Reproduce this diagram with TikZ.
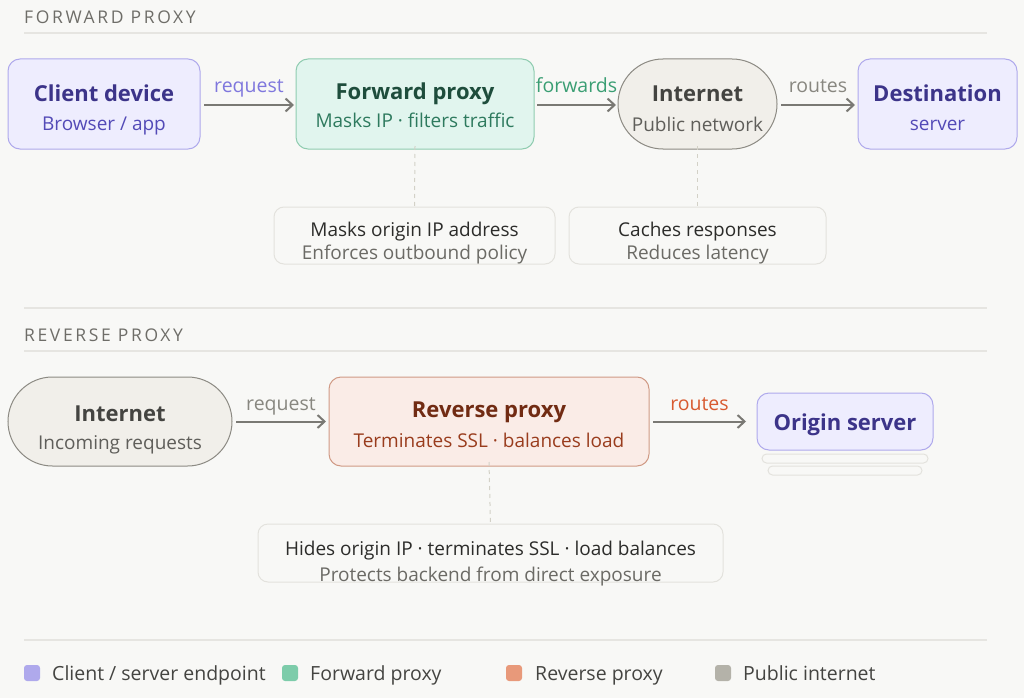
\documentclass[tikz,border=0pt]{standalone}
\usepackage{fontspec}
\setmainfont{Open Sans}
\newfontfamily\headfont[LetterSpace=15]{Open Sans}
\usetikzlibrary{arrows.meta}
\definecolor{bg}{HTML}{F8F8F6}
\definecolor{rule}{HTML}{E6E5E1}
\definecolor{headc}{HTML}{6E6D68}
\definecolor{purF}{HTML}{EEEDFE}
\definecolor{purD}{HTML}{AFA9EC}
\definecolor{purT}{HTML}{3C3489}
\definecolor{purS}{HTML}{534AB7}
\definecolor{purL}{HTML}{7F77DD}
\definecolor{grnF}{HTML}{E1F5EE}
\definecolor{grnD}{HTML}{8FCCB0}
\definecolor{grnT}{HTML}{1E4D3C}
\definecolor{grnS}{HTML}{2E7A5E}
\definecolor{grnL}{HTML}{3A9E73}
\definecolor{gryF}{HTML}{F1EFEA}
\definecolor{gryD}{HTML}{8C8A83}
\definecolor{gryT}{HTML}{444441}
\definecolor{gryS}{HTML}{5F5E5A}
\definecolor{gryL}{HTML}{888780}
\definecolor{corF}{HTML}{FAECE7}
\definecolor{corD}{HTML}{D09A85}
\definecolor{corT}{HTML}{712B13}
\definecolor{corS}{HTML}{993C1D}
\definecolor{corL}{HTML}{D85A30}
\definecolor{noteD}{HTML}{E3E2DD}
\definecolor{noteT}{HTML}{2C2C2A}
\definecolor{noteS}{HTML}{6B6A65}
\definecolor{arrc}{HTML}{7A7974}
\definecolor{dashc}{HTML}{D3D1C7}
\definecolor{legP}{HTML}{AFA9EC}
\definecolor{legG}{HTML}{7DCCAA}
\definecolor{legC}{HTML}{E8997A}
\definecolor{legY}{HTML}{B4B2A9}
\begin{document}
\begin{tikzpicture}[x=1pt,y=-1pt,
  box/.style={draw, line width=1pt, rounded corners=12pt, inner sep=0pt, outer sep=0pt},
  notebox/.style={draw=noteD, fill=bg, line width=1pt, rounded corners=10pt, inner sep=0pt},
  ttl/.style={font=\bfseries\fontsize{22}{26}\selectfont, anchor=base, inner sep=0pt},
  sub/.style={font=\fontsize{19}{23}\selectfont, anchor=base, inner sep=0pt},
  lbl/.style={font=\fontsize{19.5}{23}\selectfont, anchor=base, inner sep=0pt},
  ntt/.style={font=\fontsize{19}{23}\selectfont, anchor=base, inner sep=0pt, text=noteT},
  nts/.style={font=\fontsize{19}{23}\selectfont, anchor=base, inner sep=0pt, text=noteS},
  head/.style={font=\headfont\fontsize{17.5}{20}\selectfont, anchor=base west, inner sep=0pt, text=headc},
  arr/.style={draw=arrc, line width=2pt, -{Straight Barb[length=7pt,width=13pt]}},
  dsh/.style={draw=dashc, line width=1pt, dash pattern=on 4pt off 4pt},
  rulel/.style={draw=rule, line width=1.5pt},
  legsq/.style={minimum size=16pt, inner sep=0pt, rounded corners=3pt},
  legt/.style={font=\fontsize{19.5}{22}\selectfont, anchor=base west, inner sep=0pt, text=gryT}]
\fill[bg] (0,0) rectangle (1024,698);
\useasboundingbox (0,0) rectangle (1024,698);

% ---------- Forward proxy section
\node[head] (hf) at (24,24) {FORWARD PROXY};
\coordinate (r1a) at (24,33); \coordinate (r1b) at (987,33);
\draw[rulel] (r1a) -- (r1b);

\node[box, draw=purD, fill=purF, minimum width=192pt, minimum height=90pt] (client) at (104,104) {};
\node[ttl, text=purT] (clientT) at (104,102) {Client device};
\node[sub, text=purS] (clientS) at (104,131) {Browser / app};

\node[box, draw=grnD, fill=grnF, minimum width=238pt, minimum height=90pt] (fwd) at (415,104) {};
\node[ttl, text=grnT] (fwdT) at (415,99.5) {Forward proxy};
\node[sub, text=grnS] (fwdS) at (415,128) {Masks IP · filters traffic};

\node[box, draw=gryD, fill=gryF, rounded corners=45pt, minimum width=159pt, minimum height=90pt] (inet1) at (697.5,104) {};
\node[ttl, text=gryT] (inet1T) at (697.5,101.7) {Internet};
\node[sub, text=gryS] (inet1S) at (697.5,131.5) {Public network};

\node[box, draw=purD, fill=purF, minimum width=159pt, minimum height=90pt] (dest) at (937.5,104) {};
\node[ttl, text=purT] (destT) at (937.5,102) {Destination};
\node[sub, text=purS] (destS) at (937.5,131) {server};

\draw[arr] ([xshift=4pt,yshift=-1pt]client.east) -- ([xshift=-2pt,yshift=-1pt]fwd.west)
  node[lbl, text=purL, midway, yshift=12pt] (l1) {request};
\draw[arr] ([xshift=3pt,yshift=-1pt]fwd.east) -- ([xshift=-2pt,yshift=-1pt]inet1.west)
  node[lbl, text=grnL, midway, yshift=12pt] (l2) {forwards};
\draw[arr] ([xshift=4pt,yshift=-1pt]inet1.east) -- ([xshift=-3pt,yshift=-1pt]dest.west)
  node[lbl, text=gryL, midway, yshift=12pt] (l3) {routes};

\node[notebox, minimum width=281pt, minimum height=57pt] (note1) at (414.5,235.5) {};
\node[ntt] (note1T) at (414.5,236.7) {Masks origin IP address};
\node[nts] (note1S) at (414.5,259.3) {Enforces outbound policy};

\node[notebox, minimum width=257pt, minimum height=57pt] (note2) at (697.5,235.5) {};
\node[ntt] (note2T) at (697.5,236.7) {Caches responses};
\node[nts] (note2S) at (697.5,259.3) {Reduces latency};

\draw[dsh] ([yshift=3pt]fwd.south) -- ([yshift=-2pt]note1.north);
\draw[dsh] ([yshift=3pt]inet1.south) -- ([yshift=-2pt]note2.north);

% ---------- Reverse proxy section
\coordinate (r2a) at (24,308); \coordinate (r2b) at (987,308);
\draw[rulel] (r2a) -- (r2b);
\node[head] (hr) at (24,341) {REVERSE PROXY};
\coordinate (r3a) at (24,351); \coordinate (r3b) at (987,351);
\draw[rulel] (r3a) -- (r3b);

\node[box, draw=gryD, fill=gryF, rounded corners=44.5pt, minimum width=224pt, minimum height=89pt] (inet2) at (120,421.5) {};
\node[ttl, text=gryT] (inet2T) at (120,421) {Internet};
\node[sub, text=gryS] (inet2S) at (120,449.3) {Incoming requests};

\node[box, draw=corD, fill=corF, minimum width=320pt, minimum height=89pt] (rev) at (489,421.5) {};
\node[ttl, text=corT] (revT) at (489,417) {Reverse proxy};
\node[sub, text=corS] (revS) at (489,447) {Terminates SSL · balances load};

\node[draw=noteD, line width=1pt, fill=bg, rounded corners=4.5pt, minimum width=166pt, minimum height=9pt, inner sep=0pt] (stk1) at (845,458.5) {};
\node[draw=noteD, line width=1pt, fill=bg, rounded corners=4.5pt, minimum width=154pt, minimum height=9pt, inner sep=0pt] (stk2) at (845,470.5) {};
\node[box, draw=purD, fill=purF, minimum width=176pt, minimum height=57pt] (origin) at (845,421.5) {};
\node[ttl, text=purT] (originT) at (845,430) {Origin server};

\draw[arr] ([xshift=4pt]inet2.east) -- ([xshift=-3pt]rev.west)
  node[lbl, text=gryL, midway, yshift=11.5pt] (l4) {request};
\draw[arr] ([xshift=4pt]rev.east) -- ([xshift=-11pt]origin.west)
  node[lbl, text=corL, midway, yshift=11.5pt] (l5) {routes};

\node[notebox, minimum width=465pt, minimum height=58pt] (note3) at (490.5,553) {};
\node[ntt] (note3T) at (490.5,555) {Hides origin IP · terminates SSL · load balances};
\node[nts] (note3S) at (490.5,581) {Protects backend from direct exposure};
\draw[dsh] ([yshift=4pt]rev.south) -- ([yshift=-2pt]note3.north);

% ---------- Legend
\coordinate (r4a) at (24,640); \coordinate (r4b) at (987,640);
\draw[rulel] (r4a) -- (r4b);
\node[legsq, fill=legP] (sq1) at (32,673) {};
\node[legt] (lg1) at (52,680.5) {Client / server endpoint};
\node[legsq, fill=legG] (sq2) at (290,673) {};
\node[legt] (lg2) at (310,680.5) {Forward proxy};
\node[legsq, fill=legC] (sq3) at (514,673) {};
\node[legt] (lg3) at (535,680.5) {Reverse proxy};
\node[legsq, fill=legY] (sq4) at (723,673) {};
\node[legt] (lg4) at (743,680.5) {Public internet};
\end{tikzpicture}
\end{document}
